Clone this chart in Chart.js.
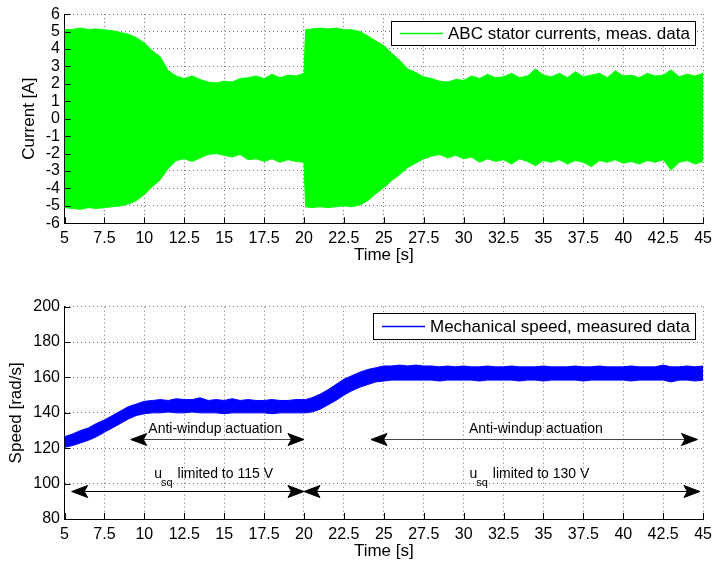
<!DOCTYPE html>
<html>
<head>
<meta charset="utf-8">
<script src="https://cdn.jsdelivr.net/npm/chart.js@4.4.1/dist/chart.umd.min.js"></script>
<style>
  html, body { margin: 0; padding: 0; background: #fff; }
  #wrap { position: relative; width: 718px; height: 565px; }
  #currentChart { position: absolute; left: 0; top: 0; }
  #speedChart { position: absolute; left: 0; top: 280px; }
</style>
</head>
<body>
<div id="wrap">
  <canvas id="currentChart" width="718" height="268"></canvas>
  <canvas id="speedChart" width="718" height="285"></canvas>
</div>
<script>
// time base [s] shared by both plots (extra point at 20.1 for the current step)
const time = [5, 5.5, 6, 6.5, 7, 7.5, 8, 8.5, 9, 9.5,
  10, 10.5, 11, 11.5, 12, 12.5, 13, 13.5, 14, 14.5,
  15, 15.5, 16, 16.5, 17, 17.5, 18, 18.5, 19, 19.5,
  20, 20.1, 20.5, 21, 21.5, 22, 22.5, 23, 23.5, 24, 24.5,
  25, 25.5, 26, 26.5, 27, 27.5, 28, 28.5, 29, 29.5,
  30, 30.5, 31, 31.5, 32, 32.5, 33, 33.5, 34, 34.5,
  35, 35.5, 36, 36.5, 37, 37.5, 38, 38.5, 39, 39.5,
  40, 40.5, 41, 41.5, 42, 42.5, 43, 43.5, 44, 44.5, 45];

// envelope of the ABC stator currents [A]
const currentUpper = [5.1, 5.12, 5.2, 5.12, 5.15, 5.1, 5.05, 4.95, 4.85, 4.65,
  4.35, 3.9, 3.55, 2.75, 2.45, 2.3, 2.45, 2.25, 2.1, 2.05,
  2.15, 2.1, 2.3, 2.35, 2.45, 2.3, 2.55, 2.35, 2.5, 2.45,
  2.6, 5.1, 5.15, 5.2, 5.15, 5.2, 5.1, 5.1, 5.0, 4.75, 4.45,
  4.2, 3.75, 3.35, 2.85, 2.65, 2.4, 2.3, 2.15, 2.1, 2.25,
  2.2, 2.45, 2.3, 2.55, 2.35, 2.4, 2.6, 2.35, 2.45, 2.85,
  2.5, 2.4, 2.6, 2.35, 2.7, 2.4, 2.5, 2.6, 2.35, 2.75,
  2.45, 2.5, 2.35, 2.6, 2.45, 2.5, 2.8, 2.4, 2.55, 2.45, 2.6];
const currentLower = [-5.1, -5.15, -5.2, -5.1, -5.15, -5.1, -5.05, -5.0, -4.9, -4.7,
  -4.35, -3.9, -3.5, -2.85, -2.4, -2.3, -2.45, -2.25, -2.05, -2.0,
  -2.1, -2.2, -2.05, -2.35, -2.3, -2.45, -2.3, -2.5, -2.35, -2.45,
  -2.5, -5.05, -5.1, -5.05, -5.1, -5.05, -5.0, -5.05, -4.95, -4.7, -4.3,
  -3.95, -3.55, -3.2, -2.8, -2.55, -2.3, -2.15, -2.05, -2.25, -2.1,
  -2.3, -2.2, -2.5, -2.3, -2.45, -2.35, -2.6, -2.3, -2.45, -2.7,
  -2.4, -2.5, -2.35, -2.6, -2.4, -2.5, -2.75, -2.4, -2.5, -2.35,
  -2.55, -2.45, -2.6, -2.4, -2.5, -2.35, -2.95, -2.5, -2.4, -2.6, -2.45];

// envelope of the measured mechanical speed [rad/s]
const speedUpper = [126.5, 128, 130, 131.5, 134, 136, 138.5, 141, 143.5, 145,
  146.5, 147, 147.5, 147, 148, 147.5, 147.5, 148.5, 147, 147.5,
  147, 148, 147, 147.5, 147, 147, 147.5, 147, 147, 147.5,
  147.5, 147.5, 148.5, 150.5, 153, 156, 159, 161, 163, 164.5, 165.5,
  166.5, 166.5, 167, 166.5, 167, 166.5, 166.5, 166, 166.5, 166,
  166.5, 166, 166, 166.5, 166, 166, 166.5, 166, 166, 166,
  166.5, 166, 166, 166, 166.5, 166, 166, 166.5, 166, 166,
  166, 166.5, 166, 166, 166, 167, 166, 166, 166.5, 166, 166.5];
const speedLower = [120.5, 121.5, 123, 124.5, 126.5, 129, 131.5, 134, 136.5, 138.5,
  139.5, 140, 140, 140.5, 140, 140, 140.5, 140, 140, 140,
  139.5, 140, 140, 140, 140, 140, 139.5, 140, 140, 140,
  140, 140, 140.5, 142, 144.5, 147, 150, 152.5, 154.5, 156, 157.5,
  158, 158.5, 158.5, 158.5, 158.5, 158.5, 158.5, 158, 158.5, 158.5,
  158.5, 158.5, 158, 158.5, 158.5, 158.5, 158.5, 158, 158.5, 158.5,
  158, 158.5, 158.5, 158.5, 158.5, 158, 158.5, 158.5, 158.5, 158.5,
  158.5, 158, 158.5, 158.5, 158.5, 158.5, 157.5, 158.5, 158.5, 158, 158.5];

// tick labels
const timeTicks = [5, 7.5, 10, 12.5, 15, 17.5, 20, 22.5, 25, 27.5, 30, 32.5, 35, 37.5, 40, 42.5, 45];
const currentTicks = [-6, -5, -4, -3, -2, -1, 0, 1, 2, 3, 4, 5, 6];
const speedTicks = [80, 100, 120, 140, 160, 180, 200];

// annotations of the speed plot (data coordinates)
const arrows = [
  { from: 9.15, to: 20, y: 125, color: '#444' },
  { from: 24.2, to: 44.65, y: 125, color: '#444' },
  { from: 5.45, to: 20, y: 96, color: '#000' },
  { from: 20, to: 44.8, y: 96, color: '#000' }
];
const windupNotes = [
  { x: 10.25, y: 125, text: 'Anti-windup actuation' },
  { x: 30.33, y: 125, text: 'Anti-windup actuation' }
];
const limitNotes = [
  { x: 10.62, y: 96, text: ' limited to 115 V' },
  { x: 30.37, y: 96, text: ' limited to 130 V' }
];

const family = '"Liberation Sans", Arial, Helvetica, sans-serif';

const toPoints = (ys) => time.map((t, i) => ({ x: t, y: ys[i] }));

// MATLAB-like ticks pointing into the plot
const inwardTicks = {
  id: 'inwardTicks',
  afterDatasetsDraw(chart) {
    const { ctx, chartArea: a, scales: { x, y } } = chart;
    ctx.save();
    ctx.strokeStyle = '#000';
    ctx.lineWidth = 1;
    ctx.beginPath();
    x.ticks.forEach(t => {
      const px = Math.round(x.getPixelForValue(t.value)) + 0.5;
      ctx.moveTo(px, a.bottom);
      ctx.lineTo(px, a.bottom - 6);
    });
    y.ticks.forEach(t => {
      const py = Math.round(y.getPixelForValue(t.value)) + 0.5;
      ctx.moveTo(a.left, py);
      ctx.lineTo(a.left + 6, py);
    });
    ctx.stroke();
    ctx.restore();
  }
};

// boxed legend in the upper right corner of the axes
const boxLegend = {
  id: 'boxLegend',
  afterDraw(chart, args, opts) {
    const ds = chart.data.datasets[0];
    const { ctx, chartArea: a } = chart;
    ctx.save();
    ctx.font = '17px ' + family;
    const tw = ctx.measureText(ds.label).width;
    const w = Math.round(57 + tw + 5);
    const h = opts.height;
    const right = Math.round(a.right - 8);
    const top = Math.round(a.top + opts.top);
    const left = right - w;
    ctx.fillStyle = '#fff';
    ctx.fillRect(left, top, w, h);
    ctx.strokeStyle = '#000';
    ctx.lineWidth = 1;
    ctx.strokeRect(left + 0.5, top + 0.5, w, h);
    ctx.strokeStyle = ds.borderColor;
    ctx.lineWidth = 1.3;
    ctx.beginPath();
    ctx.moveTo(left + 9, top + h / 2 + 0.5);
    ctx.lineTo(left + 52, top + h / 2 + 0.5);
    ctx.stroke();
    ctx.fillStyle = '#000';
    ctx.textBaseline = 'middle';
    ctx.fillText(ds.label, left + 57, top + h / 2 + 1);
    ctx.restore();
  }
};

function arrowHead(ctx, tip, y, dir) {
  const len = 16, half = 6, notch = 3.5;
  ctx.beginPath();
  ctx.moveTo(tip, y);
  ctx.lineTo(tip - dir * len, y - half);
  ctx.lineTo(tip - dir * (len - notch), y);
  ctx.lineTo(tip - dir * len, y + half);
  ctx.closePath();
  ctx.fill();
  ctx.stroke();
}

const arrowNotes = {
  id: 'arrowNotes',
  afterDatasetsDraw(chart) {
    const { ctx, scales: { x, y } } = chart;
    ctx.save();
    arrows.forEach(ar => {
      const x1 = x.getPixelForValue(ar.from);
      const x2 = x.getPixelForValue(ar.to);
      const py = Math.round(y.getPixelForValue(ar.y)) + 0.5;
      ctx.strokeStyle = ar.color;
      ctx.lineWidth = 1;
      ctx.beginPath();
      ctx.moveTo(x1 + 4, py);
      ctx.lineTo(x2 - 4, py);
      ctx.stroke();
      ctx.fillStyle = '#000';
      ctx.strokeStyle = '#000';
      ctx.lineJoin = 'miter';
      arrowHead(ctx, x1, py, -1);
      arrowHead(ctx, x2, py, 1);
    });
    ctx.fillStyle = '#000';
    ctx.textBaseline = 'alphabetic';
    ctx.textAlign = 'left';
    ctx.font = '14px ' + family;
    windupNotes.forEach(n => {
      ctx.fillText(n.text, x.getPixelForValue(n.x), y.getPixelForValue(n.y) - 6);
    });
    limitNotes.forEach(n => {
      const px = x.getPixelForValue(n.x);
      const py = y.getPixelForValue(n.y);
      ctx.font = '14px ' + family;
      ctx.fillText('u', px, py - 13);
      const uw = ctx.measureText('u').width;
      ctx.font = '11px ' + family;
      ctx.fillText('sq', px + uw - 1, py - 5);
      const sw = ctx.measureText('sq').width;
      ctx.font = '14px ' + family;
      ctx.fillText(n.text, px + uw - 1 + sw + 1, py - 13);
    });
    ctx.restore();
  }
};

function xAxis(height, titlePad) {
  return {
    type: 'linear', min: 5, max: 45,
    afterBuildTicks: s => { s.ticks = timeTicks.map(v => ({ value: v })); },
    afterFit: s => { s.height = height; },
    ticks: { color: '#000', font: { family, size: 16 }, padding: 6, maxRotation: 0, autoSkip: false },
    grid: { color: 'rgba(0,0,0,0.55)', drawTicks: false, lineWidth: 1 },
    border: { color: '#000', width: 1, dash: [1, 3] },
    title: { display: true, text: 'Time [s]', color: '#000', font: { family, size: 17, lineHeight: 1.2 }, padding: { top: 0, bottom: titlePad } }
  };
}

function yAxis(min, max, ticks, label, titlePad) {
  return {
    min, max,
    afterBuildTicks: s => { s.ticks = ticks.map(v => ({ value: v })); },
    afterFit: s => { s.width = 64.5; },
    ticks: { color: '#000', font: { family, size: 16 }, padding: 4.5, autoSkip: false },
    grid: { color: 'rgba(0,0,0,0.55)', drawTicks: false, lineWidth: 1 },
    border: { color: '#000', width: 1, dash: [1, 3] },
    title: { display: true, text: label, color: '#000', font: { family, size: 17, lineHeight: 1.2 }, padding: { top: titlePad, bottom: 0 } }
  };
}

const common = {
  responsive: false,
  animation: false,
  events: [],
  elements: { point: { radius: 0 }, line: { tension: 0, borderWidth: 1 } },
};

new Chart(document.getElementById('currentChart'), {
  type: 'line',
  data: {
    datasets: [
      { label: 'ABC stator currents, meas. data', data: toPoints(currentUpper), borderColor: '#00ff00', backgroundColor: '#00ff00', fill: '+1' },
      { label: 'lower', data: toPoints(currentLower), borderColor: '#00ff00', backgroundColor: '#00ff00', fill: false }
    ]
  },
  options: {
    ...common,
    layout: { padding: { top: 11.7, right: 9.3, bottom: 0, left: 0 } },
    scales: {
      x: xAxis(44.7, 2.8),
      y: yAxis(-6, 6, currentTicks, 'Current [A]', 19.1)
    },
    plugins: {
      legend: { display: false },
      tooltip: { enabled: false },
      boxLegend: { top: 7.3, height: 24 }
    }
  },
  plugins: [inwardTicks, boxLegend]
});

new Chart(document.getElementById('speedChart'), {
  type: 'line',
  data: {
    datasets: [
      { label: 'Mechanical speed, measured data', data: toPoints(speedUpper), borderColor: '#0000ff', backgroundColor: '#0000ff', fill: '+1' },
      { label: 'lower', data: toPoints(speedLower), borderColor: '#0000ff', backgroundColor: '#0000ff', fill: false }
    ]
  },
  options: {
    ...common,
    layout: { padding: { top: 26.7, right: 9.3, bottom: 0, left: 0 } },
    scales: {
      x: xAxis(46, 3),
      y: yAxis(80, 200, speedTicks, 'Speed [rad/s]', 6.3)
    },
    plugins: {
      legend: { display: false },
      tooltip: { enabled: false },
      boxLegend: { top: 6.3, height: 26 }
    }
  },
  plugins: [inwardTicks, arrowNotes, boxLegend]
});
</script>
</body>
</html>
